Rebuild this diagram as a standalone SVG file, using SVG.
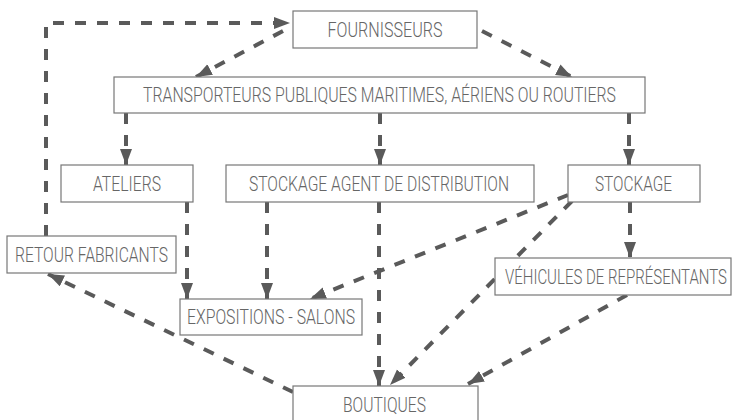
<svg xmlns="http://www.w3.org/2000/svg" width="734" height="420" viewBox="0 0 734 420">
<style>
.box{fill:#fff;stroke:#777;stroke-width:1.2}
.lbl{font-family:Roboto,"Liberation Sans",sans-serif;font-size:19.5px;font-weight:300;fill:#666;text-anchor:middle}
.c{fill:none;stroke:#5a5a5a;stroke-width:4;stroke-dasharray:11 11;marker-end:url(#ah)}
</style>
<defs>
<marker id="ah" markerUnits="userSpaceOnUse" markerWidth="17" markerHeight="13" refX="16" refY="6" orient="auto">
<path d="M0,0 L16,6 L0,12 z" fill="#5a5a5a"/>
</marker>
</defs>
<rect width="734" height="420" fill="#fff"/>
<g id="connectors">
<polyline class="c" points="46,236 46,23 290,23"/>
<line class="c" x1="283" y1="31" x2="196" y2="77"/>
<line class="c" x1="482" y1="31" x2="572" y2="77"/>
<line class="c" x1="126" y1="113" x2="126" y2="165"/>
<line class="c" x1="380" y1="113" x2="380" y2="165"/>
<line class="c" x1="629" y1="113" x2="629" y2="165"/>
<line class="c" x1="187" y1="202" x2="187" y2="299"/>
<line class="c" x1="267" y1="202" x2="267" y2="299"/>
<line class="c" x1="379" y1="202" x2="379" y2="386"/>
<line class="c" x1="568" y1="195" x2="310" y2="299"/>
<line class="c" x1="572" y1="201" x2="390" y2="385"/>
<line class="c" x1="630" y1="202" x2="630" y2="258"/>
<line class="c" x1="627" y1="295" x2="468" y2="384"/>
<line class="c" x1="293" y1="392" x2="48" y2="274"/>
</g>
<g id="fournisseurs"><rect class="box" x="293" y="11" width="184" height="37"/><text class="lbl" x="385" y="37" textLength="115" lengthAdjust="spacingAndGlyphs">FOURNISSEURS</text></g>
<g id="transporteurs"><rect class="box" x="114" y="77" width="531" height="36"/><text class="lbl" x="379.5" y="102" textLength="473" lengthAdjust="spacingAndGlyphs">TRANSPORTEURS PUBLIQUES MARITIMES, AÉRIENS OU ROUTIERS</text></g>
<g id="ateliers"><rect class="box" x="61" y="165" width="132" height="37"/><text class="lbl" x="127" y="191" textLength="68" lengthAdjust="spacingAndGlyphs">ATELIERS</text></g>
<g id="stockage-agent"><rect class="box" x="226" y="165" width="308" height="37"/><text class="lbl" x="379" y="191" textLength="260" lengthAdjust="spacingAndGlyphs">STOCKAGE AGENT DE DISTRIBUTION</text></g>
<g id="stockage"><rect class="box" x="568" y="165" width="132" height="37"/><text class="lbl" x="633.5" y="191" textLength="77" lengthAdjust="spacingAndGlyphs">STOCKAGE</text></g>
<g id="retour-fabricants"><rect class="box" x="7" y="236" width="169" height="37"/><text class="lbl" x="91.5" y="262" textLength="153" lengthAdjust="spacingAndGlyphs">RETOUR FABRICANTS</text></g>
<g id="expositions"><rect class="box" x="180" y="299" width="182" height="36"/><text class="lbl" x="271" y="324" textLength="168" lengthAdjust="spacingAndGlyphs">EXPOSITIONS - SALONS</text></g>
<g id="vehicules"><rect class="box" x="495" y="258" width="236" height="37"/><text class="lbl" x="616" y="284" textLength="222" lengthAdjust="spacingAndGlyphs">VÉHICULES DE REPRÉSENTANTS</text></g>
<g id="boutiques"><rect class="box" x="293" y="386" width="185" height="37"/><text class="lbl" x="384.5" y="412" textLength="83" lengthAdjust="spacingAndGlyphs">BOUTIQUES</text></g>
</svg>
